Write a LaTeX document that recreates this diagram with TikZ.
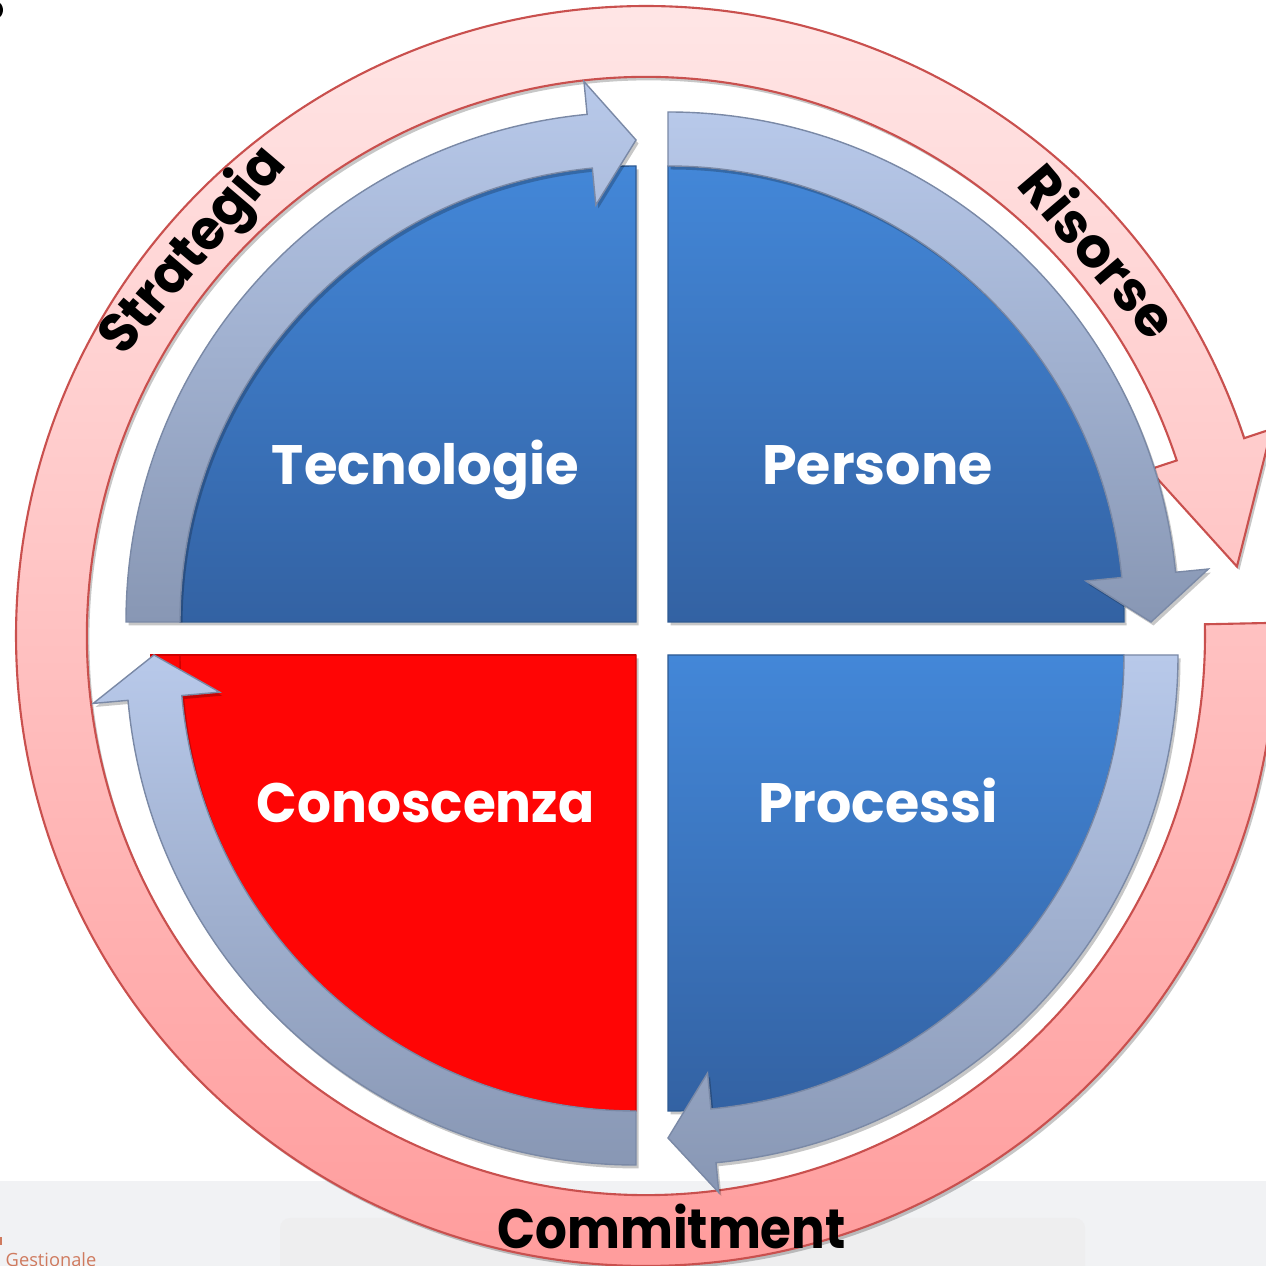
\documentclass[tikz,border=0pt]{standalone}
\usepackage{fontspec}
\setmainfont{Poppins}
\newfontfamily\smallsans{Open Sans}
\usetikzlibrary{calc,shadows}
\definecolor{quadtop}{HTML}{4387D8}
\definecolor{quadbot}{HTML}{3362A3}
\definecolor{quadedge}{HTML}{2E5A92}
\definecolor{bandtop}{HTML}{B8C9EA}
\definecolor{bandbot}{HTML}{8897B4}
\definecolor{bandedge}{HTML}{7A89A6}
\definecolor{ringtop}{HTML}{FFE6E6}
\definecolor{ringbot}{HTML}{FF9C9C}
\definecolor{ringline}{HTML}{C9504E}
\definecolor{redq}{HTML}{FF0505}
\definecolor{rededge}{HTML}{D00000}
\definecolor{greyband}{HTML}{F1F2F4}
\definecolor{greybox}{HTML}{EEEEEF}
\definecolor{gestcol}{HTML}{CF7A5E}
\tikzset{
  softshadow/.style={drop shadow={shadow xshift=0.25mm,shadow yshift=-0.35mm,opacity=0.22,fill=black}},
  quad/.style={top color=quadtop,bottom color=quadbot,draw=quadedge,line width=0.4pt,softshadow},
  redquad/.style={fill=redq,draw=rededge,line width=0.4pt,softshadow},
  bandarrow/.style={top color=bandtop,bottom color=bandbot,draw=bandedge,line width=0.4pt,softshadow},
  ringarrow/.style={top color=ringtop,bottom color=ringbot,draw=ringline,line width=0.6pt,softshadow},
  quadlabel/.style={text=white,font=\fontsize{15.8}{18}\selectfont\bfseries,anchor=base,inner sep=0pt},
  ringlabel/.style={text=black,font=\fontsize{15.8}{18}\selectfont\bfseries,inner sep=0pt}
}
\begin{document}
\begin{tikzpicture}[x=0.1mm,y=0.1mm]
\useasboundingbox (0,0) rectangle (1266,1266);
\fill[white] (0,0) rectangle (1266,1266);
% screenshot background band
\fill[greyband] (0,0) rectangle (1266,85);
\fill[greybox,rounded corners=1mm] (280,-20) rectangle (1085,48);
\node[font=\smallsans\fontsize{5.2}{6}\selectfont,text=gestcol,anchor=base west,inner sep=0pt] (gest) at (5,0) {Gestionale};
\fill[gestcol] (-2,21) rectangle (2,29);
\fill[black] (-3,1256) ellipse [x radius=6, y radius=8];
% big pink ring arrow
\begin{scope}[shift={(646,630)}]
\path[ringarrow] (1.2:630) arc[start angle=1.2,end angle=-341.7,radius=630]
  -- (-341.7:659) -- (-353.3:595) -- (-341.7:530) -- (-341.7:559)
  arc[start angle=-341.7,end angle=1.2,radius=559] -- cycle;
\end{scope}
% quadrants
\path[quad] (636,644) -- (180,644) arc[start angle=180,end angle=90,radius=456] -- cycle;
\path[quad] (668,644) -- (668,1100) arc[start angle=90,end angle=0,radius=456] -- cycle;
\fill[redq] (150,611) rectangle (200,570);
\path[redquad] (636,611) -- (636,155) arc[start angle=270,end angle=180,radius=456] -- cycle;
\draw[rededge,line width=0.4pt] (150,611) -- (636,611);
\path[quad] (668,611) -- (1124,611) arc[start angle=0,end angle=-90,radius=456] -- cycle;
% circular arrows around quadrants
\begin{scope}[shift={(636,644)}]
\path[bandarrow] (180:456) arc[start angle=180,end angle=95.5,radius=456]
  -- (95.5:419) -- (90:482) -- (95.5:543) -- (95.5:510)
  arc[start angle=95.5,end angle=180,radius=510] -- cycle;
\end{scope}
\begin{scope}[shift={(668,644)}]
\path[bandarrow] (90:510) arc[start angle=90,end angle=5.6,radius=510]
  -- (5.6:543) -- (0:483) -- (5.6:420) -- (5.6:456)
  arc[start angle=5.6,end angle=90,radius=456] -- cycle;
\end{scope}
\begin{scope}[shift={(668,611)}]
\path[bandarrow] (0:510) arc[start angle=0,end angle=-84.6,radius=510]
  -- (-84.6:540) -- (-90:483) -- (-84.6:420) -- (-84.6:456)
  arc[start angle=-84.6,end angle=0,radius=456] -- cycle;
\end{scope}
\begin{scope}[shift={(636,611)}]
\path[bandarrow] (270:510) arc[start angle=270,end angle=185.1,radius=510]
  -- (185.1:545) -- (180:482) -- (185.1:418) -- (185.1:456)
  arc[start angle=185.1,end angle=270,radius=456] -- cycle;
\end{scope}
% labels
\node[quadlabel,xscale=0.98] (tec) at (425.5,781) {Tecnologie};
\node[quadlabel] (per) at (877.5,781) {Persone};
\node[quadlabel,xscale=0.96] (con) at (425.5,443) {Conoscenza};
\node[quadlabel] (pro) at (878,443) {Processi};
\node[ringlabel,rotate=49.6,xscale=0.95] (str) at (194,1014) {Strategia};
\node[ringlabel,rotate=-49.6] (ris) at (1100,1016) {Risorse};
\node[ringlabel,anchor=base,xscale=0.9] (com) at (671.5,18) {Commitment};
\end{tikzpicture}
\end{document}
